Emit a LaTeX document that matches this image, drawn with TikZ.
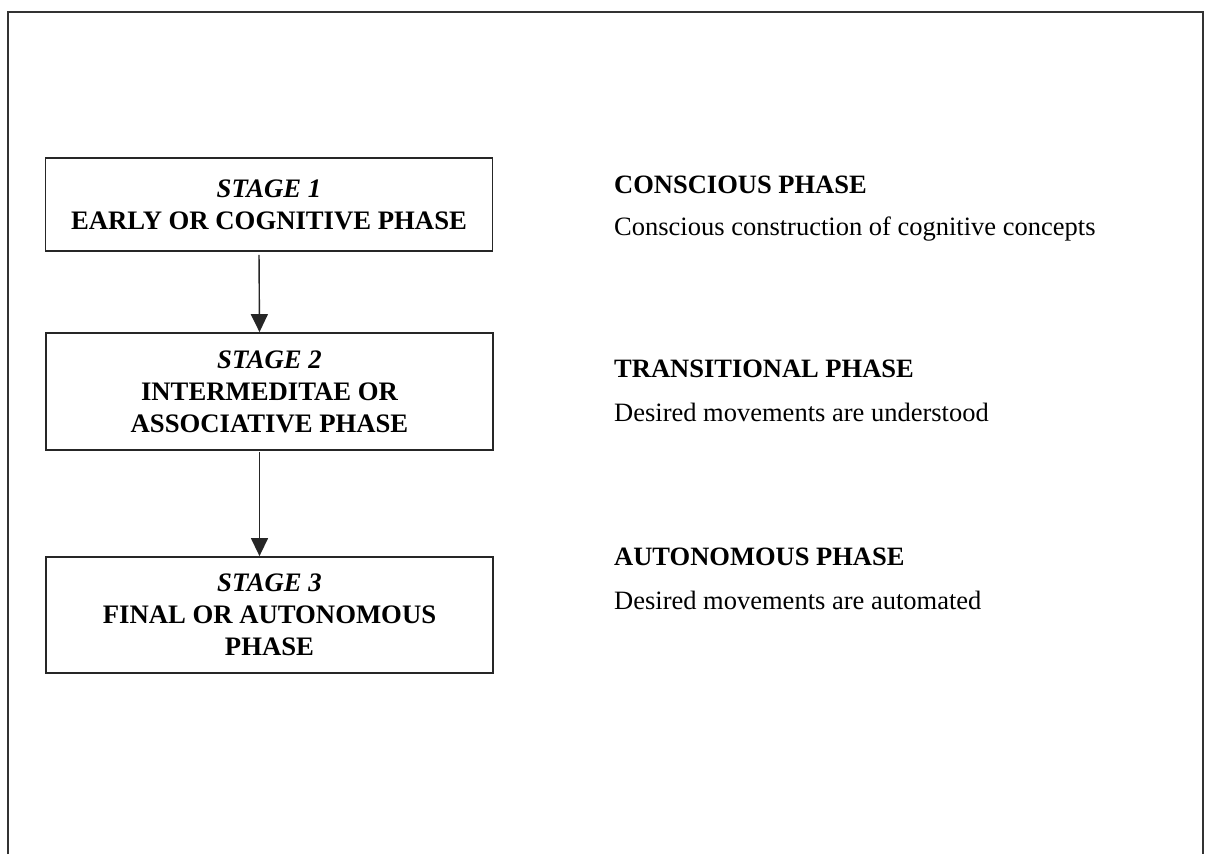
\documentclass[tikz,border=0pt]{standalone}
\usepackage{fontspec}
\setmainfont{Liberation Serif}
\usetikzlibrary{arrows.meta}
\begin{document}
\begin{tikzpicture}[x=1pt,y=-1pt,
  stagebox/.style={draw=black!85, line width=1.8pt, minimum width=447pt, align=center,
    inner sep=0pt, font=\fontsize{26.7}{32}\selectfont\bfseries},
  head/.style={anchor=base west, inner sep=0pt, font=\fontsize{26.5}{30}\selectfont\bfseries},
  desc/.style={anchor=base west, inner sep=0pt, font=\fontsize{26.5}{30}\selectfont},
  flow/.style={draw=black!85, line width=1.4pt, -{Triangle[width=17pt,length=18pt]}}]
\useasboundingbox (0,0) rectangle (1212,854);
\fill[white] (0,0) rectangle (1212,854);

% open frame around the figure
\draw[line width=2.2pt, black!80] (8,854) -- (8,12) -- (1203,12) -- (1203,854);

% stage boxes
\node[stagebox, minimum height=93pt] (s1) at (269,204.5)
  {\textit{STAGE 1}\\EARLY OR COGNITIVE PHASE};
\node[stagebox, minimum height=117pt] (s2) at (269.5,391.5)
  {\textit{STAGE 2}\\INTERMEDITAE OR\\ASSOCIATIVE PHASE};
\node[stagebox, minimum height=116pt] (s3) at (269.5,615)
  {\textit{STAGE 3}\\FINAL OR AUTONOMOUS\\PHASE};

% flow between stages
\draw[flow, shorten <=3pt] ([xshift=-10pt]s1.south) -- ([xshift=-10pt]s2.north);
\draw[flow, shorten <=1pt] ([xshift=-10pt]s2.south) -- ([xshift=-10pt]s3.north);

% phase descriptions
\node[head] (h1) at (614,193) {CONSCIOUS PHASE};
\node[desc] (d1) at (614,235) {Conscious construction of cognitive concepts};
\node[head] (h2) at (614,377) {TRANSITIONAL PHASE};
\node[desc] (d2) at (614,421) {Desired movements are understood};
\node[head] (h3) at (614,565) {AUTONOMOUS PHASE};
\node[desc] (d3) at (614,609) {Desired movements are automated};
\end{tikzpicture}
\end{document}
